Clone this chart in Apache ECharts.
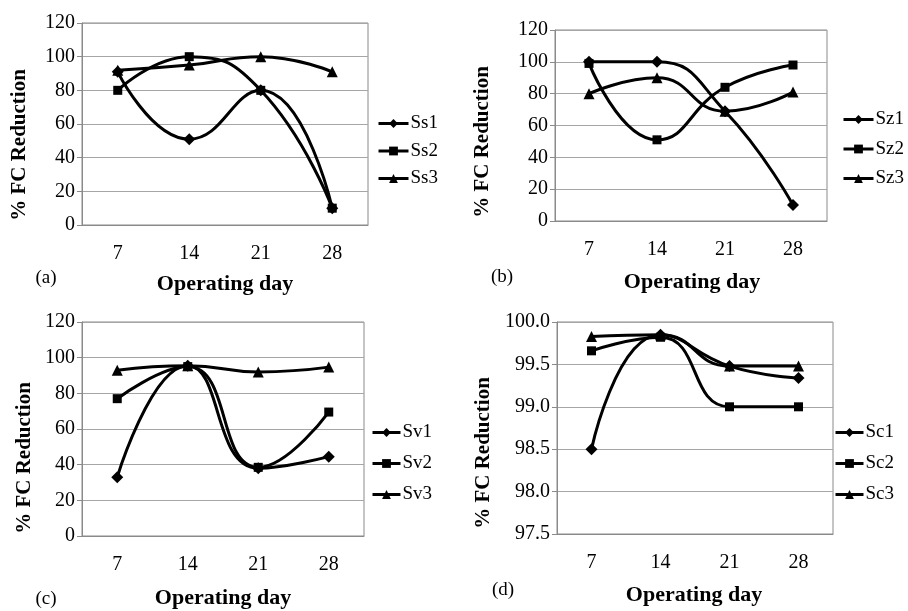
<!DOCTYPE html>
<html>
<head>
<meta charset="utf-8">
<script src="https://cdn.jsdelivr.net/npm/echarts@6/dist/echarts.min.js"></script>
<style>
  html, body { margin: 0; padding: 0; background: #fff; }
  #chart { width: 908px; height: 611px; }
</style>
</head>
<body>
<div id="chart"></div>
<script>
  const days = ['7', '14', '21', '28']

  // (a)
  const ss1 = [91, 51, 80, 10]
  const ss2 = [80, 100, 80, 10]
  const ss3 = [92, 95, 100, 91]
  // (b)
  const sz1 = [100, 100, 69, 10]
  const sz2 = [99, 51, 84, 98]
  const sz3 = [80, 90, 69, 81]
  // (c)
  const sv1 = [33, 95.5, 38, 44.5]
  const sv2 = [77, 95, 38.5, 69.5]
  const sv3 = [93, 95.5, 92, 94.7]
  // (d)
  const sc1 = [98.5, 99.85, 99.48, 99.34]
  const sc2 = [99.66, 99.82, 99.0, 99.0]
  const sc3 = [99.83, 99.85, 99.48, 99.48]

  const yTicksA = [0, 120, 20]      // min, max, interval
  const yTicksD = [97.5, 100, 0.5]

  const FONT = 'Liberation Serif'
  const gray = '#8a8a8a'

  const grids = [
    { left: 82, top: 23, width: 286, height: 202 },
    { left: 555, top: 30, width: 272, height: 191 },
    { left: 82, top: 322, width: 282, height: 214 },
    { left: 557, top: 322, width: 276, height: 212 }
  ]

  const xAxes = grids.map((g, i) => ({
    type: 'category',
    gridIndex: i,
    data: days,
    boundaryGap: true,
    axisLine: { lineStyle: { color: gray } },
    axisTick: { length: 5, lineStyle: { color: gray } },
    axisLabel: { color: '#000', fontFamily: FONT, fontSize: 20, margin: 19 }
  }))

  const yAxes = grids.map((g, i) => {
    const t = i === 3 ? yTicksD : yTicksA
    return {
      type: 'value',
      gridIndex: i,
      min: t[0], max: t[1], interval: t[2],
      axisLine: { show: true, lineStyle: { color: gray } },
      axisTick: { show: true, length: 5, lineStyle: { color: gray } },
      splitLine: { lineStyle: { color: '#a6a6a6' } },
      axisLabel: {
        color: '#000', fontFamily: FONT, fontSize: 20, margin: 7,
        formatter: i === 3 ? (v => v.toFixed(1)) : (v => v)
      }
    }
  })

  const symbols = ['diamond', 'rect', 'triangle']
  const sizes = [12, 9, 11]
  const panels = [
    [['Ss1', ss1], ['Ss2', ss2], ['Ss3', ss3]],
    [['Sz1', sz1], ['Sz2', sz2], ['Sz3', sz3]],
    [['Sv1', sv1], ['Sv2', sv2], ['Sv3', sv3]],
    [['Sc1', sc1], ['Sc2', sc2], ['Sc3', sc3]]
  ]

  const series = []
  panels.forEach((p, i) => {
    p.forEach((s, k) => {
      series.push({
        name: s[0],
        type: 'line',
        xAxisIndex: i,
        yAxisIndex: i,
        data: s[1],
        smooth: 0.5,
        symbol: symbols[k],
        symbolSize: sizes[k],
        showAllSymbol: true,
        lineStyle: { color: '#000', width: 3 },
        itemStyle: { color: '#000' },
        z: 3 + k
      })
    })
  })

  const legendPos = [
    { left: 377, top: 114, gap: 8.5, w: 30 },
    { left: 842, top: 110, gap: 10.5, w: 30 },
    { left: 371, top: 423, gap: 12, w: 28 },
    { left: 834, top: 423, gap: 12, w: 28 }
  ]
  const legends = legendPos.map((l, i) => ({
    data: panels[i].map(s => s[0]),
    orient: 'vertical',
    left: l.left,
    top: l.top,
    padding: 0,
    itemWidth: l.w,
    itemHeight: 11,
    itemGap: l.gap,
    lineStyle: { width: 3, color: '#000' },
    textStyle: { color: '#000', fontFamily: FONT, fontSize: 19, padding: [0, 0, 0, -3] }
  }))

  // axis titles and panel letters
  const yNames = [[20, 145], [483, 142], [25, 458], [484, 453]]
  const xNames = [[225, 284], [692, 282], [223, 598], [694, 595]]
  const letters = [['(a)', 46, 278], ['(b)', 502, 277], ['(c)', 46, 599], ['(d)', 503, 590]]
  const graphic = []
  yNames.forEach(p => graphic.push({
    type: 'text', x: p[0], y: p[1], rotation: Math.PI / 2,
    style: { text: '% FC Reduction', font: 'bold 21px ' + FONT, fill: '#000', align: 'center', verticalAlign: 'middle' }
  }))
  xNames.forEach(p => graphic.push({
    type: 'text', x: p[0], y: p[1],
    style: { text: 'Operating day', font: 'bold 22px ' + FONT, fill: '#000', align: 'center', verticalAlign: 'middle' }
  }))
  letters.forEach(p => graphic.push({
    type: 'text', x: p[1], y: p[2],
    style: { text: p[0], font: '19px ' + FONT, fill: '#000', align: 'center', verticalAlign: 'middle' }
  }))

  const chart = echarts.init(document.getElementById('chart'))
  chart.setOption({
    animation: false,
    backgroundColor: '#fff',
    grid: grids.map(g => Object.assign({ show: true, borderColor: gray, borderWidth: 1 }, g)),
    xAxis: xAxes,
    yAxis: yAxes,
    legend: legends,
    series: series,
    graphic: graphic
  })
</script>
</body>
</html>
